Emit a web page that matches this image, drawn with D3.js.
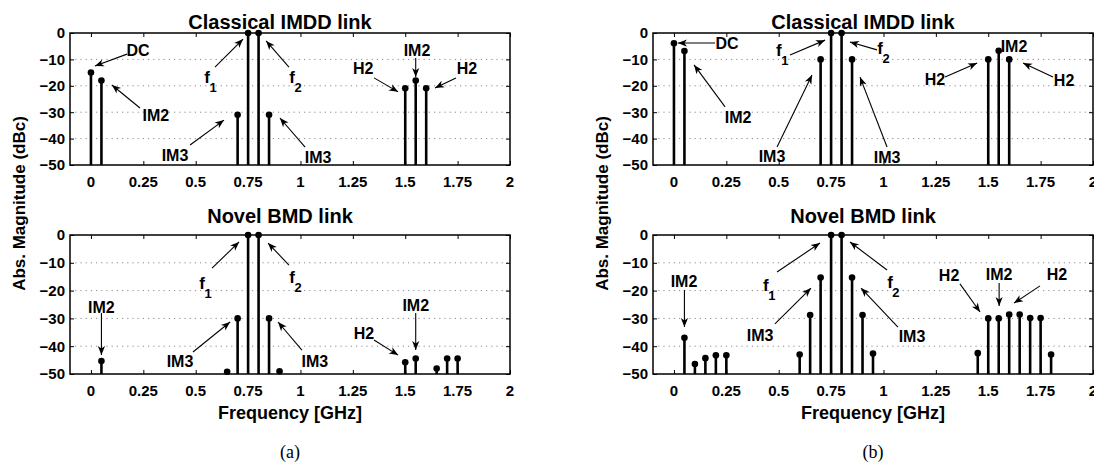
<!DOCTYPE html>
<html><head><meta charset="utf-8">
<script src="https://cdn.jsdelivr.net/npm/d3@7"></script>
<style>
body{margin:0;background:#fff;}
text{font-family:"Liberation Sans",Arial,sans-serif;font-weight:bold;fill:#000;}
</style></head>
<body><svg id="c" width="1094" height="470"></svg>
<script>
// ---------------- data ----------------
const xTicks = [0, 0.25, 0.5, 0.75, 1, 1.25, 1.5, 1.75, 2];
const xTickLabels = ["0", "0.25", "0.5", "0.75", "1", "1.25", "1.5", "1.75", "2"];
const yTicks = [0, -10, -20, -30, -40, -50];
const yTickLabels = ["0", "\u221210", "\u221220", "\u221230", "\u221240", "\u221250"];
const titles = ["Classical IMDD link", "Novel BMD link"];
const panelLetters = ["(a)", "(b)"];
const yLabel = "Abs. Magnitude (dBc)";
const xLabel = "Frequency [GHz]";

const freqA_top = [0, 0.05, 0.70, 0.75, 0.80, 0.85, 1.50, 1.55, 1.60];
const magA_top  = [-15, -18, -31, 0, 0, -31, -20.9, -18, -20.9];
const freqA_bot = [0.05, 0.65, 0.70, 0.75, 0.80, 0.85, 0.90, 1.50, 1.55, 1.65, 1.70, 1.75];
const magA_bot  = [-45.3, -49.2, -30, 0, 0, -30, -49, -45.8, -44.4, -48, -44.4, -44.4];
const freqB_top = [0, 0.05, 0.70, 0.75, 0.80, 0.85, 1.50, 1.55, 1.60];
const magB_top  = [-3.9, -6.8, -10, 0, 0, -10, -10, -6.7, -10];
const freqB_bot = [0.05, 0.10, 0.15, 0.20, 0.25, 0.60, 0.65, 0.70, 0.75, 0.80, 0.85, 0.90, 0.95, 1.45, 1.50, 1.55, 1.60, 1.65, 1.70, 1.75, 1.80];
const magB_bot  = [-37, -46.4, -44.3, -43.3, -43.3, -43, -28.8, -15.3, 0, 0, -15.3, -28.8, -42.6, -42.5, -30, -30, -28.6, -28.6, -29.9, -29.9, -43];

// annotations in data units: text pos (x,y), arrow tail (ax,ay), arrow head (hx,hy)
const annA_top = [
  {t:"DC", x:0.225, y:-6.4, ax:0.172, ay:-8.0, hx:0.019, hy:-12.5},
  {t:"IM2", x:0.31, y:-31.1, ax:0.234, ay:-28.4, hx:0.10, hy:-19.7},
  {t:"f", s:"1", x:0.554, y:-16.7, ax:0.592, ay:-12.9, hx:0.726, hy:-2.3},
  {t:"IM3", x:0.401, y:-46.2, ax:0.473, ay:-42.4, hx:0.635, hy:-33.0},
  {t:"f", s:"2", x:0.960, y:-16.7, ax:0.945, ay:-12.9, hx:0.836, hy:-3.0},
  {t:"IM3", x:1.084, y:-47.0, ax:1.022, ay:-43.2, hx:0.902, hy:-32.2},
  {t:"H2", x:1.299, y:-13.3, ax:1.351, ay:-17.0, hx:1.466, hy:-22.3},
  {t:"IM2", x:1.556, y:-6.4, ax:1.55, ay:-9.5, hx:1.55, hy:-16.7},
  {t:"H2", x:1.795, y:-13.3, ax:1.742, ay:-17.0, hx:1.642, hy:-20.8}
];
const annA_bot = [
  {t:"f", s:"1", x:0.530, y:-17.3, ax:0.578, ay:-11.9, hx:0.707, hy:-2.5},
  {t:"IM3", x:0.425, y:-45.3, ax:0.487, ay:-42.1, hx:0.664, hy:-31.3},
  {t:"IM2", x:0.05, y:-25.9, ax:0.05, ay:-28.1, hx:0.05, hy:-43.2},
  {t:"f", s:"2", x:0.960, y:-15.1, ax:0.945, ay:-10.8, hx:0.845, hy:-2.9},
  {t:"IM3", x:1.069, y:-45.3, ax:1.007, ay:-41.4, hx:0.893, hy:-31.3},
  {t:"H2", x:1.303, y:-35.3, ax:1.351, ay:-37.8, hx:1.466, hy:-43.2},
  {t:"IM2", x:1.55, y:-25.2, ax:1.55, ay:-28.1, hx:1.55, hy:-41.4}
];
const annB_top = [
  {t:"DC", x:0.253, y:-3.8, ax:0.196, ay:-3.8, hx:0.019, hy:-3.8},
  {t:"IM2", x:0.306, y:-31.8, ax:0.244, ay:-28.0, hx:0.096, hy:-12.1},
  {t:"f", s:"1", x:0.501, y:-6.4, ax:0.554, ay:-8.3, hx:0.721, hy:-2.7},
  {t:"IM3", x:0.468, y:-46.6, ax:0.492, ay:-43.2, hx:0.659, hy:-15.9},
  {t:"f", s:"2", x:0.984, y:-5.7, ax:0.969, ay:-6.4, hx:0.840, hy:-3.4},
  {t:"IM3", x:1.017, y:-47.0, ax:1.017, ay:-43.2, hx:0.888, hy:-16.7},
  {t:"H2", x:1.246, y:-17.4, ax:1.294, ay:-16.7, hx:1.447, hy:-11.4},
  {t:"IM2", x:1.623, y:-4.9},
  {t:"H2", x:1.862, y:-17.8, ax:1.809, ay:-16.7, hx:1.666, hy:-11.4}
];
const annB_bot = [
  {t:"IM2", x:0.048, y:-16.5, ax:0.05, ay:-19.8, hx:0.05, hy:-33.1},
  {t:"f", s:"1", x:0.439, y:-18.0, ax:0.492, ay:-13.3, hx:0.697, hy:-2.9},
  {t:"IM3", x:0.411, y:-36.0, ax:0.482, ay:-32.0, hx:0.654, hy:-19.1},
  {t:"f", s:"2", x:1.031, y:-16.9, ax:1.017, ay:-12.6, hx:0.840, hy:-2.5},
  {t:"IM3", x:1.136, y:-36.3, ax:1.069, ay:-33.1, hx:0.893, hy:-19.1},
  {t:"H2", x:1.313, y:-14.4, ax:1.365, ay:-17.6, hx:1.461, hy:-27.7},
  {t:"IM2", x:1.552, y:-14.0, ax:1.552, ay:-17.3, hx:1.552, hy:-25.5},
  {t:"H2", x:1.828, y:-14.0, ax:1.747, ay:-18.3, hx:1.623, hy:-24.5}
];

// ---------------- layout ----------------
const cols = [{l:70, r:510}, {l:653, r:1093}];
const rows = [{t:33, b:165, titleY:29}, {t:235, b:374, titleY:223}];
const panels = [
  {c:0, r:0, f:freqA_top, m:magA_top, ann:annA_top},
  {c:0, r:1, f:freqA_bot, m:magA_bot, ann:annA_bot},
  {c:1, r:0, f:freqB_top, m:magB_top, ann:annB_top},
  {c:1, r:1, f:freqB_bot, m:magB_bot, ann:annB_bot}
];

const svg = d3.select("#c");
svg.append("rect").attr("width",1094).attr("height",470).attr("fill","#fff");

function arrow(g, x1, y1, x2, y2){
  g.append("line").attr("x1",x1).attr("y1",y1).attr("x2",x2).attr("y2",y2)
    .attr("stroke","#000").attr("stroke-width",1.1);
  const ang = Math.atan2(y2-y1, x2-x1);
  const L = 9, W = 3.6, N = 6.5;
  const ca = Math.cos(ang), sa = Math.sin(ang);
  const p = (d, w) => [x2 - d*ca - w*sa, y2 - d*sa + w*ca];
  const pts = [[x2,y2], p(L, W), p(N, 0), p(L, -W)];
  g.append("path").attr("d","M"+pts.map(q=>q.join(",")).join("L")+"Z").attr("fill","#000");
}

panels.forEach(P => {
  const C = cols[P.c], R = rows[P.r];
  const x = d3.scaleLinear().domain([-0.1, 2]).range([C.l, C.r]);
  const y = d3.scaleLinear().domain([-50, 0]).range([R.b, R.t]);
  const g = svg.append("g");

  // grid
  g.selectAll(".grid").data(yTicks.filter(v => v > -50 && v < 0)).enter().append("line")
    .attr("x1", C.l).attr("x2", C.r).attr("y1", d=>y(d)).attr("y2", d=>y(d))
    .attr("stroke","#8a8a8a").attr("stroke-width",1).attr("stroke-dasharray","1.2,4");

  // axes (inner ticks)
  const tl = 4;
  const ax = g.append("g");
  ax.append("g").attr("transform",`translate(0,${R.b})`)
    .call(d3.axisTop(x).tickValues(xTicks).tickSize(tl).tickFormat(""));
  ax.append("g").attr("transform",`translate(0,${R.t})`)
    .call(d3.axisBottom(x).tickValues(xTicks).tickSize(tl).tickFormat(""));
  ax.append("g").attr("transform",`translate(${C.l},0)`)
    .call(d3.axisRight(y).tickValues(yTicks).tickSize(tl).tickFormat(""));
  ax.append("g").attr("transform",`translate(${C.r},0)`)
    .call(d3.axisLeft(y).tickValues(yTicks).tickSize(tl).tickFormat(""));
  ax.selectAll(".domain").remove();
  ax.selectAll(".tick line").attr("stroke","#000").attr("stroke-width",1);

  // stems
  const data = P.f.map((f,i)=>({f, m:P.m[i]}));
  g.selectAll(".stem").data(data).enter().append("line")
    .attr("x1", d=>x(d.f)).attr("x2", d=>x(d.f))
    .attr("y1", y(-50)).attr("y2", d=>y(d.m))
    .attr("stroke","#000").attr("stroke-width",2.6);
  g.selectAll(".mk").data(data).enter().append("circle")
    .attr("cx", d=>x(d.f)).attr("cy", d=>y(d.m)).attr("r",3.3).attr("fill","#000");

  // frame
  g.append("rect").attr("x",C.l).attr("y",R.t).attr("width",C.r-C.l).attr("height",R.b-R.t)
    .attr("fill","none").attr("stroke","#000").attr("stroke-width",1.5);

  // tick labels
  g.selectAll(".xl").data(xTicks).enter().append("text")
    .attr("x", d=>x(d)).attr("y", R.b+22).attr("text-anchor","middle")
    .attr("font-size",15).text((d,i)=>xTickLabels[i]);
  g.selectAll(".yl").data(yTicks).enter().append("text")
    .attr("x", C.l-5).attr("y", d=>y(d)).attr("dy","0.36em").attr("text-anchor","end")
    .attr("font-size",15).text((d,i)=>yTickLabels[i]);

  // title
  g.append("text").attr("x",(C.l+C.r)/2-10).attr("y",R.titleY).attr("text-anchor","middle")
    .attr("font-size",20).text(titles[P.r]);

  // annotations
  P.ann.forEach(a => {
    if (a.ax !== undefined) arrow(g, x(a.ax), y(a.ay), x(a.hx), y(a.hy));
    if (a.s) {
      g.append("text").attr("x",x(a.x)).attr("y",y(a.y)).attr("dy","0.36em")
        .attr("text-anchor","middle").attr("font-size",17).text(a.t);
      g.append("text").attr("x",x(a.x)+6).attr("y",y(a.y)+10).attr("dy","0.36em")
        .attr("text-anchor","middle").attr("font-size",13).text(a.s);
    } else {
      g.append("text").attr("x",x(a.x)).attr("y",y(a.y)).attr("dy","0.36em")
        .attr("text-anchor","middle").attr("font-size",16).text(a.t);
    }
  });
});

// axis labels & panel letters
cols.forEach((C,i) => {
  const cx = (C.l+C.r)/2;
  svg.append("text").attr("transform",`translate(${C.l-51},${(rows[0].t+rows[1].b)/2}) rotate(-90)`)
    .attr("text-anchor","middle").attr("dy","0.36em").attr("font-size",17).text(yLabel);
  svg.append("text").attr("x",cx).attr("y",419).attr("text-anchor","middle")
    .attr("font-size",18).text(xLabel);
  svg.append("text").attr("x",cx).attr("y",458).attr("text-anchor","middle")
    .attr("font-size",18).style("font-family","'Liberation Serif','Times New Roman',serif")
    .style("font-weight","normal").text(panelLetters[i]);
});
</script></body></html>
